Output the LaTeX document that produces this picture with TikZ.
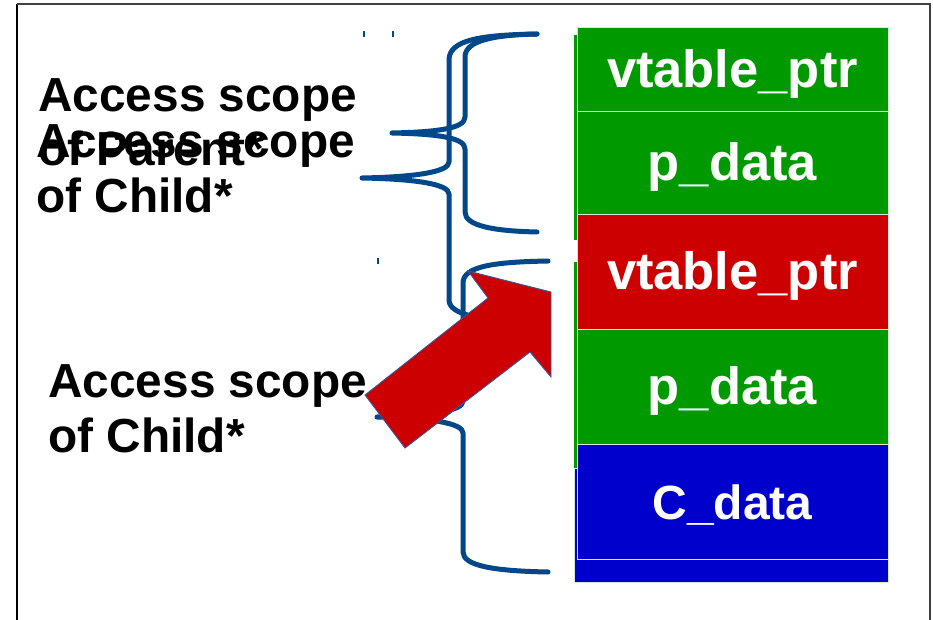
\documentclass[tikz,border=0pt]{standalone}
\usepackage{fontspec}
\setmainfont{Liberation Sans}
\definecolor{cellgreen}{RGB}{0,153,0}
\definecolor{cellred}{RGB}{204,0,0}
\definecolor{cellblue}{RGB}{0,0,204}
\definecolor{bracecol}{RGB}{0,72,138}
\definecolor{cellline}{RGB}{215,232,215}
\definecolor{arrowline}{RGB}{50,90,160}
\tikzset{
  cell/.style={draw=cellline, line width=1pt, minimum width=311pt, inner sep=0pt,
    text height=40pt, text depth=5pt,
    text=white, font=\fontsize{52.5}{52}\selectfont\bfseries},
  brace/.style={draw=bracecol, line width=5pt, line cap=round, line join=round},
  tick/.style={draw=bracecol, line width=1.2pt},
  label/.style={anchor=base west, inner sep=0pt, text=black,
    font=\fontsize{47.8}{55}\selectfont\bfseries},
  frame/.style={line width=1.6pt},
  blockarrow/.style={fill=cellred, draw=arrowline, line width=0.9pt, line join=miter}
}
\begin{document}
\begin{tikzpicture}[x=1pt, y=-1pt]
\useasboundingbox (0,0) rectangle (933,620);

% outer frame
\draw[frame, black] (17,620) -- (17,4);
\draw[frame, black!75] (17,4) -- (930,4) -- (930,620);

% stack drawn slightly offset behind the cells
\fill[cellgreen] (574,35) rectangle (888,240);
\fill[cellgreen] (574,262) rectangle (888,468);
\fill[cellblue] (574,468) rectangle (888,582);
\draw[cellline, line width=0.6pt] (574,468) rectangle (888,582);

% memory layout cells
\node[cell, fill=cellgreen, minimum height=84pt]  (vp1) at (732.5,70)  {vtable\_ptr};
\node[cell, fill=cellgreen, minimum height=103pt] (pd1) at (732.5,163.5) {p\_data};
\node[cell, fill=cellred,   minimum height=114pt] (vp2) at (732.5,272) {vtable\_ptr};
\node[cell, fill=cellgreen, minimum height=115pt] (pd2) at (732.5,386.5) {p\_data};
\node[cell, fill=cellblue,  minimum height=115pt,
      font=\fontsize{48}{48}\selectfont\bfseries] (cd) at (732.5,501.5) {C\_data};

% small stray marks
\draw[tick] (364,31) -- (364,37);
\draw[tick] (393,31) -- (393,37);
\draw[tick] (378,258) -- (378,264);

% brace of the upper two fields
\coordinate (aTop) at (537,34);
\coordinate (aTip) at (392,133);
\coordinate (aBot) at (537,232);
\draw[brace] (aTop) .. controls (492,35) and (465,41) .. (465,57) -- (465,117)
  .. controls (465,128) and (440,132) .. (aTip)
  .. controls (440,134) and (465,138) .. (465,149) -- (465,212)
  .. controls (465,226) and (494,231) .. (aBot);

% brace of the upper three fields
\coordinate (bTop) at (537,34);
\coordinate (bTip) at (362,178);
\coordinate (bBot) at (537,322);
\draw[brace] (bTop) .. controls (480,35) and (449,40) .. (449,60) -- (449,162)
  .. controls (449,172) and (415,177) .. (bTip)
  .. controls (415,179) and (449,184) .. (449,194) -- (449,300)
  .. controls (449,315) and (482,321) .. (bBot);

% brace of the lower three fields
\coordinate (cTop) at (548,261);
\coordinate (cTip) at (377,417);
\coordinate (cBot) at (548,572);
\draw[brace] (cTop) .. controls (495,262) and (463,266) .. (463,283) -- (463,401)
  .. controls (463,411) and (430,416) .. (cTip)
  .. controls (430,418) and (463,423) .. (463,433) -- (463,552)
  .. controls (463,566) and (495,571) .. (cBot);

% labels
\node[label] (par1) at (38,112) {Access scope};
\node[label] (par2) at (38,166) {of Parent*};
\node[label] (chA1) at (36,158) {Access scope};
\node[label] (chA2) at (36,213) {of Child*};
\node[label] (chB1) at (48,397) {Access scope};
\node[label] (chB2) at (48,452) {of Child*};

% block arrow pointing at the second vtable pointer
\draw[blockarrow] (365,395) -- (488,298) -- (468,271) -- (551,292) -- (551,377)
  -- (530,352) -- (405,448) -- cycle;
\end{tikzpicture}
\end{document}
